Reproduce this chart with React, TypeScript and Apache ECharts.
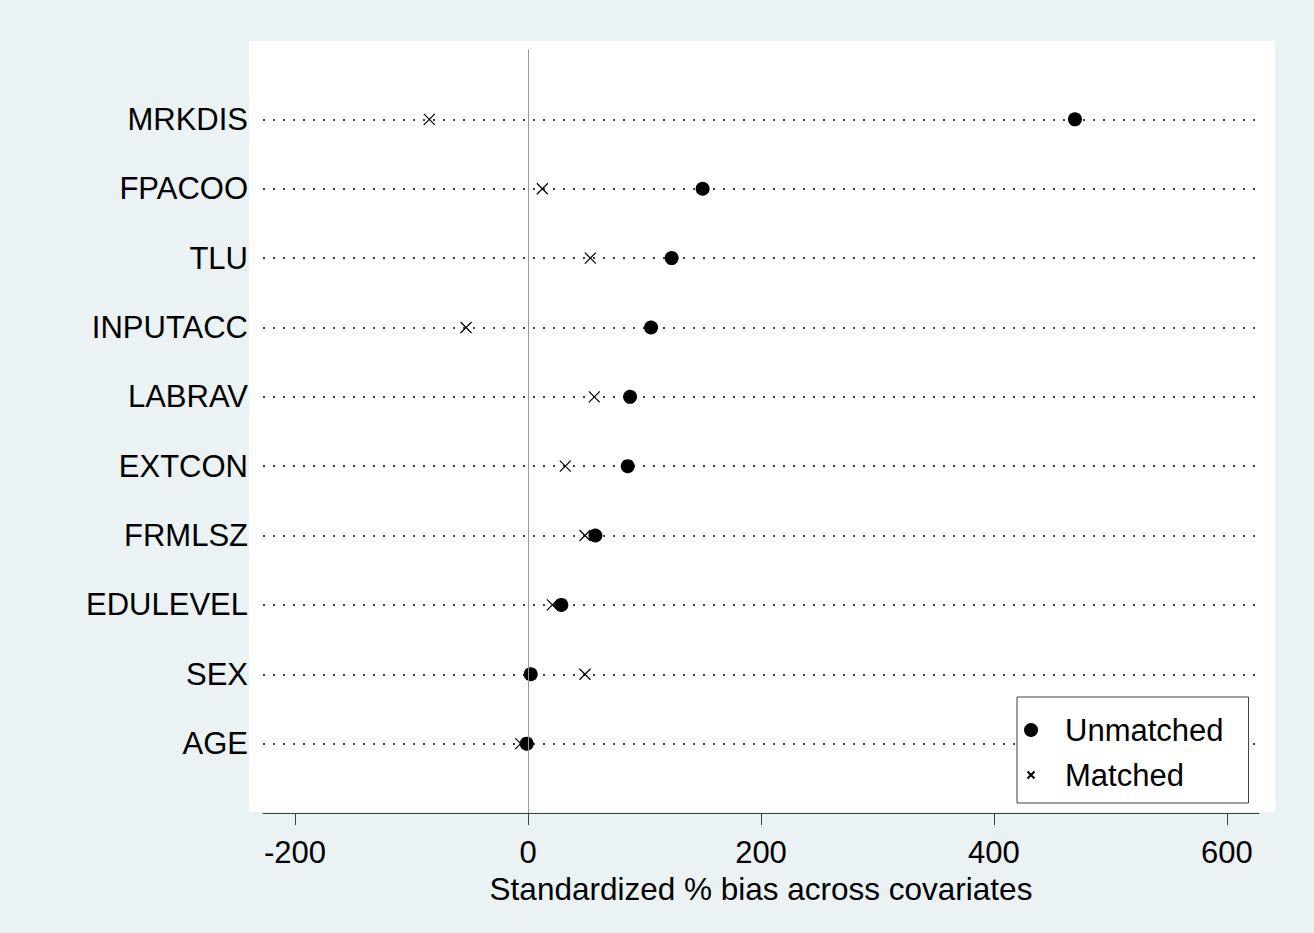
import React, { useEffect, useRef } from "react";
import * as echarts from "echarts";

const categories = ["MRKDIS", "FPACOO", "TLU", "INPUTACC", "LABRAV", "EXTCON", "FRMLSZ", "EDULEVEL", "SEX", "AGE"];
const unmatched = [469.5, 149.9, 123.3, 105.6, 87.6, 85.6, 57.8, 28.6, 2.3, -1.1];
const matched = [-84.7, 12.3, 53.5, -53.2, 56.9, 32.0, 48.9, 20.9, 48.9, -6.3];
const xTicks = [-200, 0, 200, 400, 600];
const xTitle = "Standardized % bias across covariates";

const FONT = "'Liberation Sans', Arial, Helvetica, sans-serif";
const CROSS = "path://M0,0L10,10M0,10L10,0";
const CROSS_LEGEND = "path://M0,0M14,14M3.5,3.5L10.5,10.5M3.5,10.5L10.5,3.5";

export default function App() {
  const ref = useRef<HTMLDivElement>(null);
  useEffect(() => {
    if (!ref.current) return;
    const chart = echarts.init(ref.current, null, { renderer: "svg" });
    const yData = ["", ...[...categories].reverse(), ""];
    chart.setOption({
      animation: false,
      backgroundColor: "#eaf2f3",
      textStyle: { fontFamily: FONT },
      graphic: [
        {
          type: "rect",
          z: -10,
          shape: { x: 249, y: 41, width: 1026, height: 771 },
          style: { fill: "#ffffff" },
          silent: true,
        },
      ],
      grid: { left: 263, right: 55, top: 50, bottom: 120, containLabel: false },
      xAxis: {
        type: "value",
        min: -227.5,
        max: 627.5,
        name: xTitle,
        nameLocation: "middle",
        nameGap: 53,
        nameTextStyle: { fontSize: 31.5, color: "#000", fontFamily: FONT },
        axisLine: { show: true, onZero: false, lineStyle: { color: "#404040", width: 1 } },
        axisTick: { show: true, length: 12, customValues: xTicks, lineStyle: { color: "#404040" } },
        axisLabel: { customValues: xTicks, fontSize: 31, color: "#000", margin: 24, fontFamily: FONT },
        splitLine: { show: false },
      },
      yAxis: {
        type: "category",
        data: yData,
        boundaryGap: false,
        axisLine: { show: true, lineStyle: { color: "#404040", width: 1 } },
        axisTick: { show: false },
        axisLabel: { fontSize: 31, color: "#000", margin: 15, fontFamily: FONT, interval: 0 },
        splitLine: {
          show: true,
          interval: (_i: number, v: string) => v !== "",
          lineStyle: { color: "#000", width: 1.6, type: [2, 8] },
        },
      },
      legend: {
        orient: "vertical",
        left: 1017,
        top: 697,
        padding: [15, 25, 10, 6],
        backgroundColor: "#ffffff",
        borderColor: "#404040",
        borderWidth: 1,
        itemWidth: 30,
        itemHeight: 14,
        itemGap: 9,
        textStyle: { fontSize: 31, lineHeight: 36, color: "#000", padding: [0, 0, 0, 14], fontFamily: FONT },
        data: [
          { name: "Unmatched", icon: "circle" },
          { name: "Matched", icon: CROSS_LEGEND },
        ],
      },
      series: [
        {
          name: "Matched",
          type: "scatter",
          z: 2,
          symbol: CROSS,
          symbolSize: 11,
          itemStyle: { color: "#000", borderColor: "#000", borderWidth: 1.2, opacity: 1 },
          data: categories.map((c, i) => [matched[i], c]),
          markLine: {
            silent: true,
            symbol: ["none", "none"],
            label: { show: false },
            lineStyle: { color: "#9a9a9a", type: "solid", width: 1 },
            data: [{ xAxis: 0 }],
          },
        },
        {
          name: "Unmatched",
          type: "scatter",
          z: 3,
          symbol: "circle",
          symbolSize: 14,
          itemStyle: { color: "#000", opacity: 1 },
          data: categories.map((c, i) => [unmatched[i], c]),
        },
      ],
    });
    return () => chart.dispose();
  }, []);
  return <div ref={ref} style={{ position: "absolute", left: 0, top: 0, width: 1314, height: 933 }} />;
}
